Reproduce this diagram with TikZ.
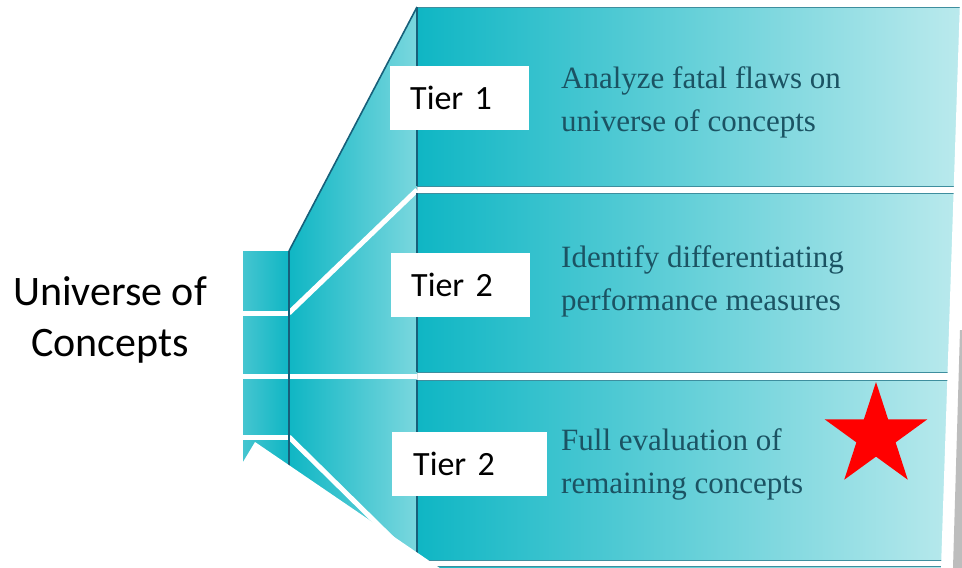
\documentclass[tikz,border=0pt]{standalone}
\usepackage{fontspec}
\setmainfont{Liberation Serif}
\newfontfamily\calibri{Carlito}
\usepackage{tikz}
\usetikzlibrary{shapes.geometric}
\definecolor{tealA}{HTML}{0FB6C4}
\definecolor{tealB}{HTML}{BFEBEE}
\definecolor{tealC}{HTML}{7AD7DE}
\definecolor{tealD}{HTML}{45C5D0}
\definecolor{tealEdge}{HTML}{17607A}
\definecolor{tealLine}{HTML}{3E8E9E}
\definecolor{tealText}{HTML}{1B5363}
\definecolor{scrap}{HTML}{BDBDBD}
\tikzset{
	stage/.style={left color=tealA, right color=tealB, draw=tealLine, line width=1pt},
	gap/.style={white, line width=5pt},
	edge/.style={tealEdge, line width=1.6pt},
	tierbox/.style={fill=white, anchor=north west, inner xsep=20pt, inner ysep=0pt,
		minimum height=64pt, align=left, font=\calibri\fontsize{34}{40}\selectfont},
	stagetext/.style={tealText, anchor=base west, inner sep=0pt, align=left,
		font=\fontsize{31}{43}\selectfont},
}

\begin{document}
\begin{tikzpicture}[x=1pt,y=-1pt]
		\useasboundingbox (0,0) rectangle (962,568);
		\clip (0,0) rectangle (962,568);
		%
		% small column on the left
		\fill[left color=tealD, right color=tealA] (243,251) rectangle (289,480);
		\draw[gap] (243,313) -- (289,313);
		\draw[gap] (243,376) -- (289,376);
		\draw[gap] (243,437) -- (289,437);
		%
		% funnel part
		\fill[left color=tealA, right color=tealC] (289,251) -- (417,7) -- (417,575) -- (289,575) -- cycle;
		\draw[gap] (289,313) -- (417,190);
		\draw[gap] (289,376) -- (417,376);
		\draw[gap] (289,437) -- (417,563);
		\draw[edge] (289,251) -- (417,7);
		\draw[edge] (289,251) -- (289,480);
		%
		% the stages
		\draw[stage] (417,7) rectangle (975,186);
		\draw[stage] (417,193) rectangle (975,372);
		\draw[stage] (417,380) rectangle (975,560);
		\draw[stage] (417,566) rectangle (975,600);
		\draw[edge] (417,7) -- (417,186);
		\draw[edge] (417,193) -- (417,372);
		\draw[edge] (417,380) -- (417,560);
		\draw[edge] (417,566) -- (417,600);
		%
		% cut edges
		\fill[white] (243,462) -- (255,442) -- (450,575) -- (0,575) -- cycle;
		\fill[white] (960,0) -- (941,568) -- (962,568) -- (962,0) -- cycle;
		\fill[scrap] (960,330) -- (962,330) -- (962,568) -- (953,568) -- cycle;
		%
		\node[font=\calibri\fontsize{42}{51}\selectfont, align=center] (universe) at (110,320) {Universe of\\Concepts};
		%
		\node[tierbox, text width=99pt] (tier1) at (390,66) {Tier 1};
		\node[tierbox, text width=99pt] (tier2a) at (391,253) {Tier 2};
		\node[tierbox, text width=113pt, inner xsep=21pt] (tier2b) at (392,432) {Tier 2};
		%
		\node[stagetext] (analyze) at (561,131) {Analyze fatal flaws on\\universe of concepts};
		\node[stagetext] (identify) at (561,310) {Identify differentiating\\performance measures};
		\node[stagetext] (full) at (561,493) {Full evaluation of\\remaining concepts};
		%
		\node[star, star points=5, star point ratio=2.618, fill=red, inner sep=0pt, minimum size=108pt] (star) at (876,436) {};
	\end{tikzpicture}
\end{document}
